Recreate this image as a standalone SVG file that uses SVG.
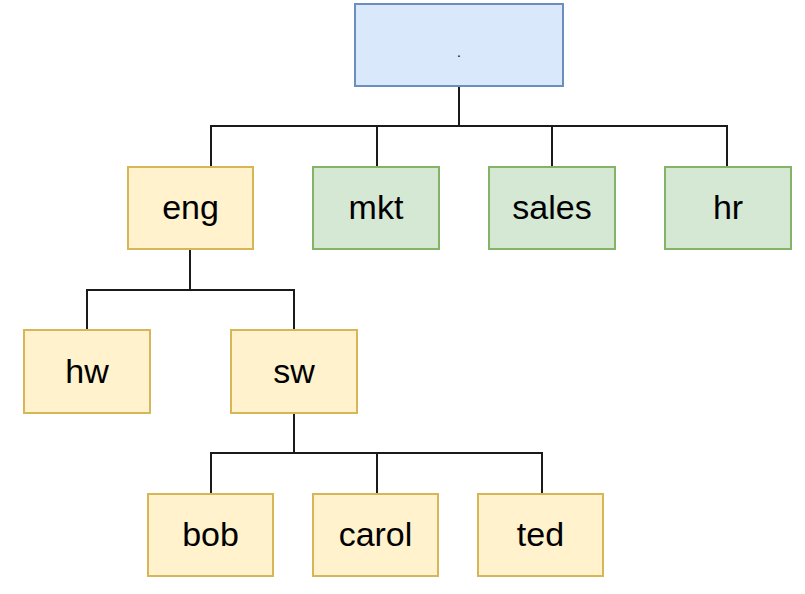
<svg xmlns="http://www.w3.org/2000/svg" width="805" height="594" viewBox="0 0 805 594">
<style>
.y{fill:#fff2cc;stroke:#d6b656;stroke-width:2}
.g{fill:#d5e8d4;stroke:#82b366;stroke-width:2}
.b{fill:#dae8fc;stroke:#6c8ebf;stroke-width:2}
text{font-family:"Liberation Sans",Arial,sans-serif;font-size:34px;fill:#000;text-anchor:middle}
.c{fill:none;stroke:#1a1a1a;stroke-width:2}
</style>
<rect width="805" height="594" fill="#fff"/>
<g id="connectors">
<path class="c" d="M459 86V126M211 167V126H727V167M377 126V167M552 126V167"/>
<path class="c" d="M190 249V290M87 330V290H294V330"/>
<path class="c" d="M294 413V453M211 494V453H542V494M377 453V494"/>
</g>
<g id="root"><rect class="b" x="355" y="4" width="208" height="82"/><text x="459" y="57" style="font-size:14px">.</text></g>
<g id="eng"><rect class="y" x="128" y="167" width="125" height="82"/><text x="190.5" y="219">eng</text></g>
<g id="mkt"><rect class="g" x="313" y="167" width="126" height="82"/><text x="376" y="219">mkt</text></g>
<g id="sales"><rect class="g" x="489" y="167" width="126" height="82"/><text x="552" y="219">sales</text></g>
<g id="hr"><rect class="g" x="665" y="167" width="126" height="82"/><text x="728" y="219">hr</text></g>
<g id="hw"><rect class="y" x="24" y="330" width="126" height="83"/><text x="87" y="383">hw</text></g>
<g id="sw"><rect class="y" x="231" y="330" width="126" height="83"/><text x="294" y="383">sw</text></g>
<g id="bob"><rect class="y" x="148" y="494" width="125" height="82"/><text x="210.5" y="546">bob</text></g>
<g id="carol"><rect class="y" x="313" y="494" width="125" height="82"/><text x="375.5" y="546">carol</text></g>
<g id="ted"><rect class="y" x="478" y="494" width="125" height="82"/><text x="540.5" y="546">ted</text></g>
</svg>
